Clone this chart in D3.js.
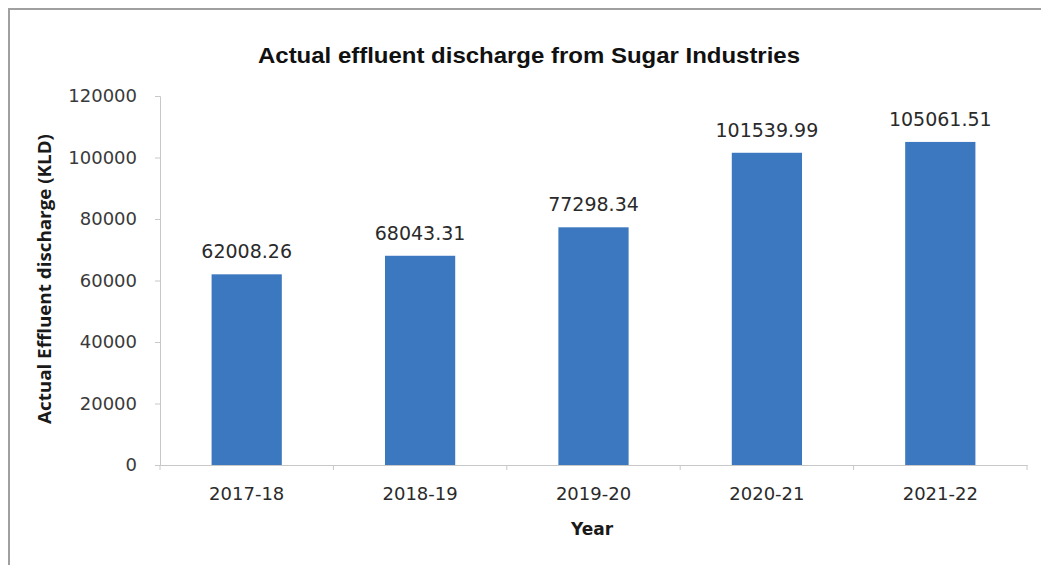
<!DOCTYPE html>
<html><head><meta charset="utf-8">
<script src="https://cdn.jsdelivr.net/npm/d3@7"></script>
<style>body{margin:0;background:#fff}svg{display:block}</style>
</head><body>
<svg id="c" width="1041" height="565"></svg>
<script>
const categories = ["2017-18","2018-19","2019-20","2020-21","2021-22"];
const values = [62008.26, 68043.31, 77298.34, 101539.99, 105061.51];
const valueLabels = ["62008.26","68043.31","77298.34","101539.99","105061.51"];
const yTicks = [0,20000,40000,60000,80000,100000,120000];

const svg = d3.select("#c");
const m = {left:160, right:1027, top:96, bottom:465};

// frame
svg.append("line").attr("x1",8).attr("x2",1041).attr("y1",9).attr("y2",9).attr("stroke","#a0a0a0").attr("stroke-width",2);
svg.append("line").attr("x1",9).attr("x2",9).attr("y1",8).attr("y2",565).attr("stroke","#a0a0a0").attr("stroke-width",2);

const x = d3.scaleBand().domain(categories).range([m.left,m.right]).padding(0);
const y = d3.scaleLinear().domain([0,120000]).range([m.bottom,m.top]);

const font = "DejaVu Sans, sans-serif";

// y axis
const ya = svg.append("g").attr("transform",`translate(${m.left},0)`)
  .call(d3.axisLeft(y).tickValues(yTicks).tickSize(5).tickPadding(18).tickFormat(d=>String(d)));
ya.select(".domain").attr("stroke","#c8c8c8");
ya.selectAll(".tick line").attr("stroke","#c8c8c8");
ya.selectAll(".tick text").attr("font-family",font).attr("font-size",18).attr("fill","#3a3a3a");

// x axis
const xa = svg.append("g").attr("transform",`translate(0,${m.bottom})`)
  .call(d3.axisBottom(x).tickSize(0).tickPadding(22));
xa.select(".domain").attr("stroke","#c8c8c8");
xa.selectAll(".tick text").attr("font-family",font).attr("font-size",18).attr("fill","#2a2a2a");
// category boundary ticks
const bounds = categories.map(c=>x(c)).concat([m.right]);
svg.append("g").selectAll("line").data(bounds).join("line")
  .attr("x1",d=>d).attr("x2",d=>d).attr("y1",m.bottom).attr("y2",m.bottom+5)
  .attr("stroke","#c8c8c8");

// bars
const bw = x.bandwidth()*0.405;
svg.append("g").selectAll("rect").data(values).join("rect")
  .attr("x",(d,i)=>x(categories[i])+x.bandwidth()/2-bw/2)
  .attr("width",bw)
  .attr("y",d=>y(d))
  .attr("height",d=>y(0)-y(d))
  .attr("fill","#3c78bf");

// value labels
svg.append("g").selectAll("text").data(values).join("text")
  .attr("x",(d,i)=>x(categories[i])+x.bandwidth()/2)
  .attr("y",d=>y(d)-16)
  .attr("text-anchor","middle")
  .attr("font-family",font).attr("font-size",19).attr("fill","#2a2a2a")
  .text((d,i)=>valueLabels[i]);

// title
svg.append("text").attr("x",529).attr("y",63).attr("text-anchor","middle")
  .attr("font-family","Liberation Sans, Arial, sans-serif").attr("font-weight","bold")
  .attr("font-size",22.5).attr("fill","#111")
  .attr("textLength",542).attr("lengthAdjust","spacingAndGlyphs")
  .text("Actual effluent discharge from Sugar Industries");

// axis titles
svg.append("text").attr("transform","translate(51,279) rotate(-90)").attr("text-anchor","middle")
  .attr("font-family","Open Sans, sans-serif").attr("font-weight","bold").attr("font-size",17).attr("fill","#1a1a1a")
  .attr("textLength",290).attr("lengthAdjust","spacingAndGlyphs")
  .text("Actual Effluent discharge (KLD)");
svg.append("text").attr("x",592).attr("y",535).attr("text-anchor","middle")
  .attr("font-family",font).attr("font-weight","bold").attr("font-size",17).attr("fill","#1a1a1a")
  .text("Year");
</script>
</body></html>
